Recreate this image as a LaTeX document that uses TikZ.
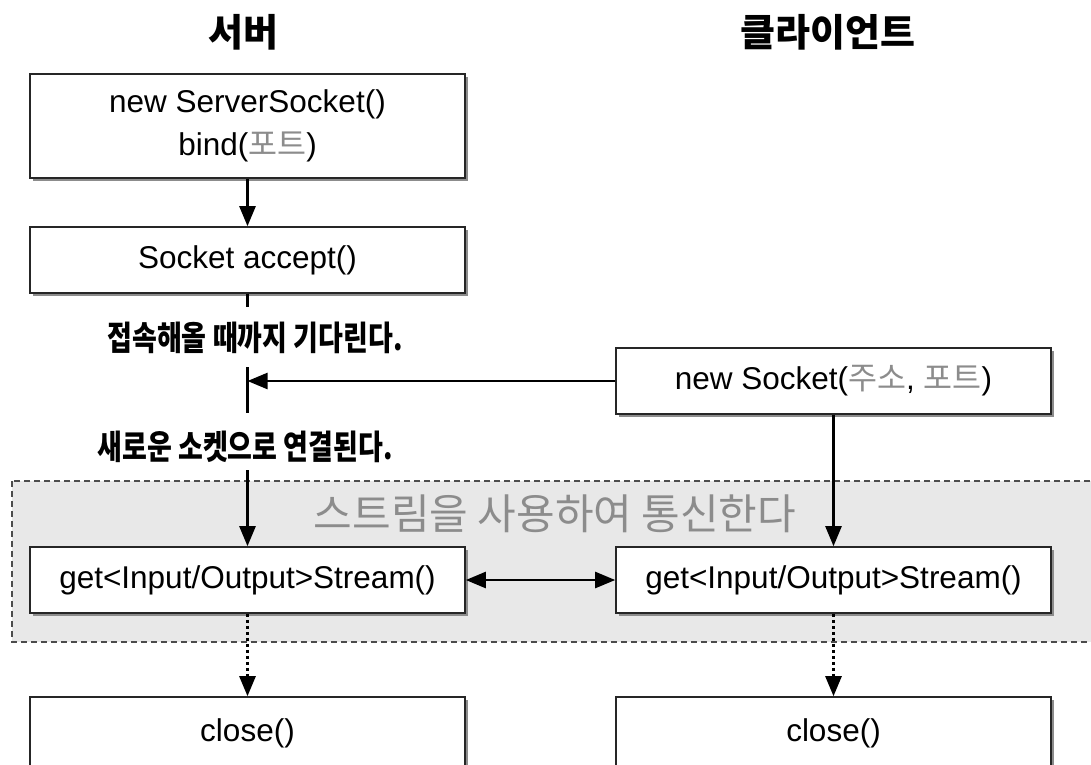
\documentclass[tikz,border=0pt]{standalone}
\usepackage{fontspec}
\setmainfont{Liberation Sans}
\newfontfamily\kr{Noto Sans CJK KR}
\usetikzlibrary{shadows,arrows.meta}

\tikzset{
  stepbox/.style={draw=black!85, line width=1.6pt, fill=white,
    minimum width=435pt, inner sep=0pt, align=center,
    font=\fontsize{31.5}{43}\selectfont,
    drop shadow={shadow xshift=3pt, shadow yshift=-3pt, fill=black!45, opacity=1}},
  flow/.style={line width=2.4pt, -{Triangle[length=20pt,width=16pt]}},
  both/.style={line width=2.4pt, {Triangle[length=20pt,width=16pt]}-{Triangle[length=20pt,width=16pt]}},
  plain/.style={line width=2.4pt},
  dots/.style={line width=2.6pt, dash pattern=on 3pt off 3pt,
    -{Triangle[length=20pt,width=16pt]}},
  zone/.style={fill=black!9, draw=black!70, line width=1.3pt, dash pattern=on 6pt off 4pt},
  title/.style={font=\kr\bfseries\fontsize{38}{42}\selectfont},
  note/.style={font=\kr\bfseries\fontsize{27}{30}\selectfont, yscale=1.25},
  soft/.style={text=black!45},
}

\begin{document}
\begin{tikzpicture}[x=1pt,y=-1pt]
  \useasboundingbox (0,0) rectangle (1091,764);

  % shaded area for the stream phase
  \draw[zone] (12,481) rectangle (1110,642);
  \node[font=\kr\fontsize{42}{46}\selectfont, soft] (zonelabel) at (555,514) {스트림을 사용하여 통신한다};

  % column headings
  \node[title] (server) at (243,32) {서버};
  \node[title] (client) at (828,32) {클라이언트};

  % server side
  \node[stepbox, minimum height=104pt] (listen) at (247.5,126)
    {new ServerSocket()\\bind({\kr\color{black!45}포트})};
  \node[stepbox, minimum height=66pt] (accept) at (247.5,260) {Socket accept()};
  \node[stepbox, minimum height=66pt] (getS) at (247.5,580) {get<Input/Output>Stream()};
  \node[stepbox, minimum height=72pt] (closeS) at (247.5,733) {close()};

  % client side
  \node[stepbox, minimum height=66pt] (connect) at (833.5,381)
    {new Socket({\kr\color{black!45}주소}, {\kr\color{black!45}포트})};
  \node[stepbox, minimum height=66pt] (getC) at (833.5,580) {get<Input/Output>Stream()};
  \node[stepbox, minimum height=72pt] (closeC) at (833.5,733) {close()};

  % notes along the server line
  \node[note] (wait) at (255,338) {접속해올 때까지 기다린다.};
  \node[note] (linked) at (245,447) {새로운 소켓으로 연결된다.};

  % points on the server line
  \coordinate (stub) at (247.5,307);
  \coordinate (hitTop) at (247.5,367);
  \coordinate (hit) at (247.5,381);
  \coordinate (hitBot) at (247.5,413);
  \coordinate (resume) at (247.5,470);

  % connectors
  \draw[flow] (listen.south) -- (accept.north);
  \draw[plain] (accept.south) -- (stub);
  \draw[plain] (hitTop) -- (hitBot);
  \draw[flow] (connect.west) -- (hit);
  \draw[flow] (resume) -- (getS.north);
  \draw[flow] (connect.south) -- (getC.north);
  \draw[both] (getS.east) -- (getC.west);
  \draw[dots] (getS.south) -- (closeS.north);
  \draw[dots] (getC.south) -- (closeC.north);
\end{tikzpicture}
\end{document}
